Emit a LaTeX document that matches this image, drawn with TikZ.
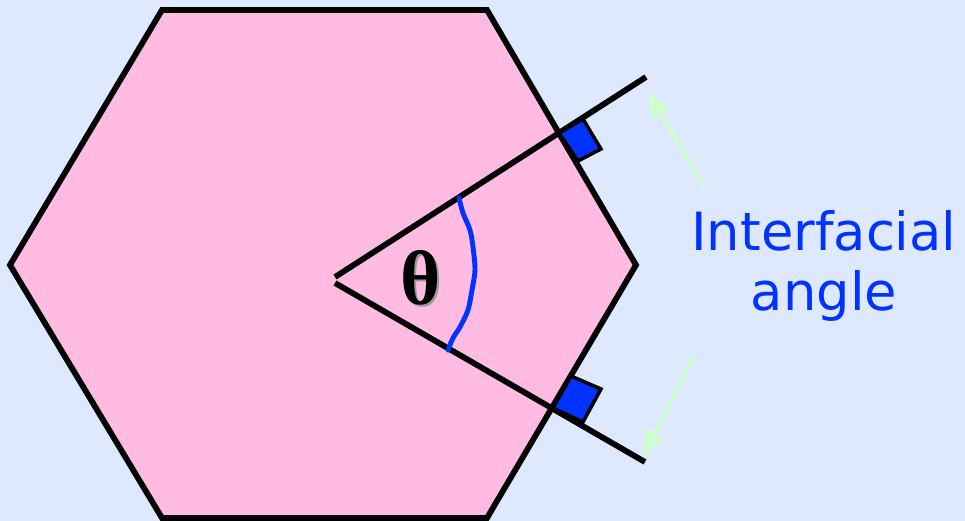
\documentclass[tikz,border=0pt]{standalone}
\usepackage{fontspec}
\usetikzlibrary{arrows.meta, positioning}
\newfontfamily\labelfont{DejaVu Sans}
\newfontfamily\greekfont{Liberation Serif}
\definecolor{bgblue}{RGB}{222,233,255}
\definecolor{facepink}{RGB}{255,187,225}
\definecolor{markblue}{RGB}{0,51,255}
\definecolor{paleggreen}{RGB}{204,255,204}
\tikzset{
  hexface/.style={draw=black, fill=facepink, line width=3.3pt, line join=miter},
  normal/.style={draw=black, line width=3.3pt},
  rightmark/.style={draw=black, fill=markblue, line width=2pt},
  anglearc/.style={draw=markblue, line width=2.8pt, line cap=round},
  gap/.style={-{Latex[length=0.55cm, width=0.45cm]}, draw=paleggreen, line width=2pt},
  lbl/.style={text=markblue, font=\labelfont\fontsize{30}{34}\selectfont, align=center},
  greek/.style={font=\greekfont\bfseries\fontsize{44}{46}\selectfont},
}

\begin{document}
\begin{tikzpicture}[x=0.02cm, y=-0.02cm]

  % ---- Background ----
  \fill[bgblue] (0,0) rectangle (965,521);
  \useasboundingbox (0,0) rectangle (965,521);

  % ---- Hexagon ----
  \draw[hexface] (162,10) -- (487,10) -- (636,265) -- (487,518)
                 -- (162,518) -- (10,265) -- cycle;

  % ---- Face normals ----
  \coordinate (apexU) at (335,277);
  \coordinate (apexL) at (335,283);
  \coordinate (endU)  at (646,77);
  \coordinate (endL)  at (645,462);
  \draw[normal] (apexU) -- (endU);
  \draw[normal] (apexL) -- (endL);

  % ---- Right-angle marks ----
  \draw[rightmark] (559,133) -- (583,119) -- (601,149) -- (578,161) -- cycle;
  \draw[rightmark] (553,408) -- (571,376) -- (601,389) -- (583,422) -- cycle;

  % ---- Angle ----
  \draw[anglearc] plot[smooth] coordinates {(459,198) (463,213) (470,230)
    (473,247) (475,270) (472,290) (468,310) (460,327) (453,338) (448,350)};
  \node[greek, text=black!40] (thetash) at (423,280) {θ};
  \node[greek] (theta) at (421,278) {θ};

  % ---- Label and arrows ----
  \node[lbl] (label) at (824,266) {Interfacial\\angle};
  \coordinate (tailU) at (704,187);
  \coordinate (tipU)  at (647,90);
  \coordinate (tailL) at (694,356);
  \coordinate (tipL)  at (642,458);
  \draw[gap] (tailU) -- (tipU);
  \draw[gap] (tailL) -- (tipL);
\end{tikzpicture}
\end{document}
